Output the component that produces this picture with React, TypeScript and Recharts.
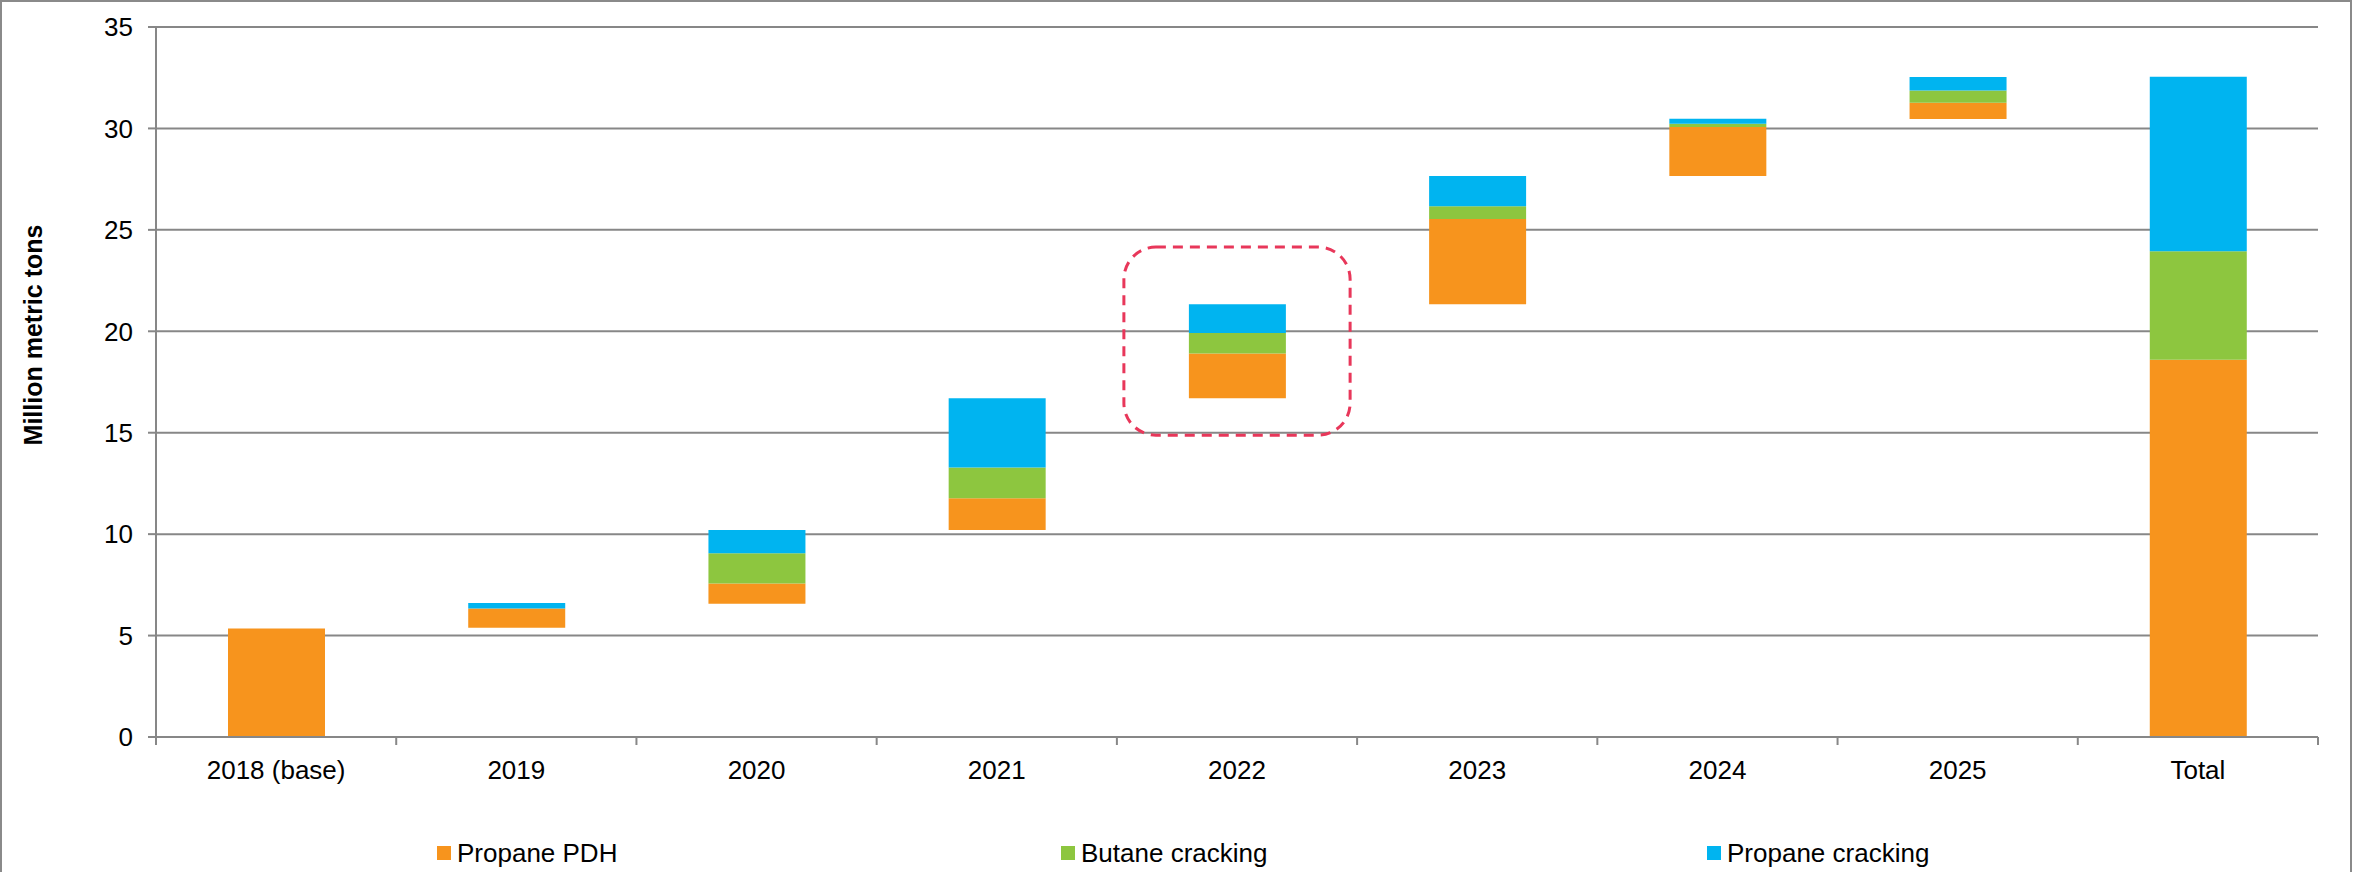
import React from 'react';
import { BarChart, Bar, XAxis, YAxis, CartesianGrid, Legend, ReferenceArea, Label } from 'recharts';

// categories and series (million metric tons)
const categories = ['2018 (base)', '2019', '2020', '2021', '2022', '2023', '2024', '2025', 'Total'];
const offset = [0, 5.38, 6.57, 10.21, 16.7, 21.33, 27.65, 30.47, 0];
const propanePDH = [5.35, 0.95, 1.0, 1.56, 2.2, 4.2, 2.42, 0.8, 18.6];
const butaneCracking = [0, 0, 1.49, 1.51, 1.02, 0.63, 0.16, 0.6, 5.35];
const propaneCracking = [0, 0.27, 1.15, 3.42, 1.41, 1.49, 0.25, 0.67, 8.6];
const yTicks = [0, 5, 10, 15, 20, 25, 30, 35];

// highlighted box around 2022
const highlightCategory = '2022';
const highlightRange = [14.88, 24.15];

const W = 2359;
const H = 872;
const PLOT_LEFT = 156;
const PLOT_RIGHT = 2318;
const BAND = (PLOT_RIGHT - PLOT_LEFT) / categories.length;
const GRID = '#878787';
const FONT = '"Liberation Sans", Arial, sans-serif';

const chartData = categories.map((name, i) => ({
  name,
  offset: offset[i],
  pdh: propanePDH[i],
  butane: butaneCracking[i],
  propane: propaneCracking[i],
}));

const legendItems = [
  { label: 'Propane PDH', color: '#F7941D', left: 437 },
  { label: 'Butane cracking', color: '#8DC63F', left: 1061 },
  { label: 'Propane cracking', color: '#00B4F0', left: 1707 },
];

const XTick = (props: any) => {
  const { x, y, payload, index } = props;
  const last = index === categories.length - 1;
  return (
    <g>
      <line x1={x - BAND / 2} x2={x - BAND / 2} y1={y} y2={y + 8} stroke={GRID} strokeWidth={2} />
      {last && <line x1={x + BAND / 2} x2={x + BAND / 2} y1={y} y2={y + 8} stroke={GRID} strokeWidth={2} />}
      <text x={x} y={y + 42} textAnchor="middle" fontSize={26} fill="#000" fontFamily={FONT}>
        {payload.value}
      </text>
    </g>
  );
};

const LegendContent = () => (
  <div style={{ position: 'relative', width: W, height: 40, fontFamily: FONT }}>
    {legendItems.map((it) => (
      <div key={it.label} style={{ position: 'absolute', left: it.left, top: 6, display: 'flex', alignItems: 'center' }}>
        <span style={{ width: 14, height: 14, background: it.color, display: 'inline-block', marginRight: 6 }} />
        <span style={{ fontSize: 26, color: '#000', lineHeight: '30px' }}>{it.label}</span>
      </div>
    ))}
  </div>
);

const HighlightShape = (props: any) => {
  const { x, y, width, height } = props;
  return (
    <rect
      x={x + 7}
      y={y}
      width={width - 14}
      height={height}
      rx={32}
      ry={32}
      fill="none"
      stroke="#E8375A"
      strokeWidth={3}
      strokeDasharray="10 7"
    />
  );
};

const App: React.FC = () => {
  return (
    <div style={{ position: 'absolute', left: 0, top: 0, width: W, height: H, background: '#fff' }}>
      <div
        style={{
          position: 'absolute',
          left: 0,
          top: 0,
          width: 2352,
          height: H,
          borderTop: '2px solid #8a8a8a',
          borderLeft: '2px solid #8a8a8a',
          borderRight: '2px solid #8a8a8a',
          boxSizing: 'border-box',
          pointerEvents: 'none',
        }}
      />
      <div style={{ position: 'absolute', left: 0, top: 0 }}>
        <BarChart
          width={W}
          height={H}
          data={chartData}
          margin={{ top: 27, right: W - PLOT_RIGHT, left: 0, bottom: 0 }}
          barSize={97}
        >
          <CartesianGrid vertical={false} stroke={GRID} strokeWidth={2} />
          <XAxis
            dataKey="name"
            height={95}
            axisLine={{ stroke: GRID, strokeWidth: 2 }}
            tickLine={false}
            tickSize={0}
            tickMargin={0}
            interval={0}
            tick={<XTick />}
          />
          <YAxis
            width={PLOT_LEFT}
            domain={[0, 35]}
            ticks={yTicks}
            interval={0}
            axisLine={{ stroke: GRID, strokeWidth: 2 }}
            tickLine={{ stroke: GRID, strokeWidth: 2 }}
            tickSize={8}
            tickMargin={15}
            tick={{ fontSize: 26, fill: '#000', fontFamily: FONT }}
          >
            <Label
              content={() => {
                const cx = 33;
                const cy = 335;
                return (
                  <text
                    x={cx}
                    y={cy}
                    transform={`rotate(-90 ${cx} ${cy})`}
                    textAnchor="middle"
                    dominantBaseline="central"
                    fontSize={25}
                    fontWeight="bold"
                    fill="#000"
                    fontFamily={FONT}
                  >
                    Million metric tons
                  </text>
                );
              }}
            />
          </YAxis>
          <Legend verticalAlign="bottom" height={40} content={<LegendContent />} />
          <Bar dataKey="offset" stackId="a" fill="transparent" isAnimationActive={false} legendType="none" />
          <Bar dataKey="pdh" name="Propane PDH" stackId="a" fill="#F7941D" isAnimationActive={false} />
          <Bar dataKey="butane" name="Butane cracking" stackId="a" fill="#8DC63F" isAnimationActive={false} />
          <Bar dataKey="propane" name="Propane cracking" stackId="a" fill="#00B4F0" isAnimationActive={false} />
          <ReferenceArea
            x1={highlightCategory}
            x2={highlightCategory}
            y1={highlightRange[0]}
            y2={highlightRange[1]}
            shape={<HighlightShape />}
            ifOverflow="visible"
          />
        </BarChart>
      </div>
    </div>
  );
};

export default App;
